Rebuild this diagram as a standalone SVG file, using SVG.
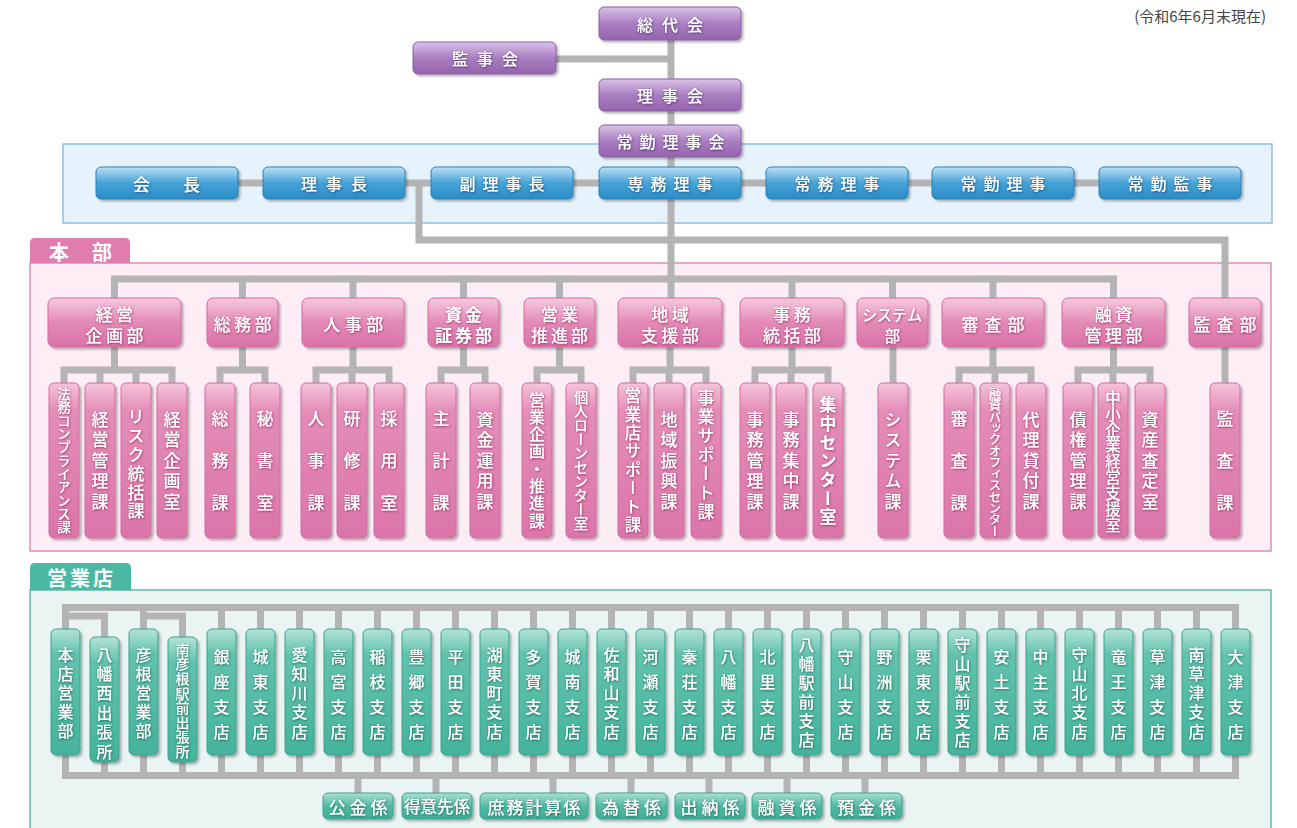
<svg xmlns="http://www.w3.org/2000/svg" width="1297" height="828" viewBox="0 0 1297 828">
<defs>
<linearGradient id="gV" x1="0" y1="0" x2="0" y2="1"><stop offset="0" stop-color="#dac3e7"/><stop offset="0.5" stop-color="#a97fc1"/><stop offset="1" stop-color="#9563ad"/></linearGradient>
<linearGradient id="gB" x1="0" y1="0" x2="0" y2="1"><stop offset="0" stop-color="#bddff4"/><stop offset="0.5" stop-color="#45a3d7"/><stop offset="1" stop-color="#2b8cc6"/></linearGradient>
<linearGradient id="gP" x1="0" y1="0" x2="0" y2="1"><stop offset="0" stop-color="#f6c9de"/><stop offset="0.5" stop-color="#e38ab6"/><stop offset="1" stop-color="#da73a8"/></linearGradient>
<linearGradient id="gPs" x1="0" y1="0" x2="0" y2="1"><stop offset="0" stop-color="#f5c4db"/><stop offset="0.18" stop-color="#e48db7"/><stop offset="1" stop-color="#db75a9"/></linearGradient>
<linearGradient id="gTs" x1="0" y1="0" x2="0" y2="1"><stop offset="0" stop-color="#b4e3d8"/><stop offset="0.2" stop-color="#62c2ad"/><stop offset="1" stop-color="#45b39c"/></linearGradient>
<linearGradient id="gT" x1="0" y1="0" x2="0" y2="1"><stop offset="0" stop-color="#ace0d3"/><stop offset="0.5" stop-color="#53baa4"/><stop offset="1" stop-color="#40ae97"/></linearGradient>
<filter id="sh" x="-20%" y="-20%" width="150%" height="150%"><feDropShadow dx="2" dy="2" stdDeviation="1.3" flood-color="#000" flood-opacity="0.28"/></filter>
<filter id="tsV" x="-30%" y="-30%" width="160%" height="160%"><feDropShadow dx="0.5" dy="0.8" stdDeviation="0.9" flood-color="#4a2467" flood-opacity="0.9"/></filter>
<filter id="tsB" x="-30%" y="-30%" width="160%" height="160%"><feDropShadow dx="0.5" dy="0.8" stdDeviation="0.9" flood-color="#123f6a" flood-opacity="0.9"/></filter>
<filter id="tsP" x="-30%" y="-30%" width="160%" height="160%"><feDropShadow dx="0.5" dy="0.8" stdDeviation="0.9" flood-color="#8e2159" flood-opacity="0.85"/></filter>
<filter id="tsT" x="-30%" y="-30%" width="160%" height="160%"><feDropShadow dx="0.5" dy="0.8" stdDeviation="0.9" flood-color="#135e50" flood-opacity="0.9"/></filter>
</defs>
<style>
.f{font-family:"Noto Sans CJK JP","Noto Sans CJK SC",sans-serif;fill:#fff;font-weight:500}
.h{text-anchor:middle;dominant-baseline:central}
.v{writing-mode:vertical-rl;text-anchor:middle}
.b{font-weight:700}
.pv{fill:url(#gV);stroke:#8a5ca4;stroke-width:1;filter:url(#sh)}
.bl{fill:url(#gB);stroke:#2a7fb9;stroke-width:1;filter:url(#sh)}
.pd{fill:url(#gP);stroke:#d36aa0;stroke-width:1;filter:url(#sh)}
.ps{fill:url(#gPs);stroke:#d36aa0;stroke-width:1;filter:url(#sh)}
.tb{fill:url(#gTs);stroke:#3aa28d;stroke-width:1;filter:url(#sh)}
.tk{fill:url(#gT);stroke:#3aa28d;stroke-width:1;filter:url(#sh)}
.xv{filter:url(#tsV)}
.xb{filter:url(#tsB)}
.xp{filter:url(#tsP)}
.xt{filter:url(#tsT)}
.c{fill:none;stroke:#b4b4b4;stroke-width:7;stroke-linecap:square}
</style>

<g id="panels">
<rect x="63" y="144" width="1209" height="79" fill="#e7f3fc" stroke="#8fbde4" stroke-width="1.5"/>
<rect x="30" y="263" width="1241" height="288" fill="#fdedf5" stroke="#e58bb5" stroke-width="1.5"/>
<path d="M30 263V243Q30 238 35 238H125Q130 238 130 243V263Z" fill="#e07dae"/>
<text class="f b" x="49" y="251" font-size="20" letter-spacing="23" dominant-baseline="central">本部</text>
<rect x="30" y="590" width="1241" height="260" fill="#eaf5f3" stroke="#5bbfac" stroke-width="1.5"/>
<path d="M30 590V568Q30 563 35 563H126Q131 563 131 568V590Z" fill="#4bb8a3"/>
<text class="f b" x="47" y="577" font-size="20" letter-spacing="3" dominant-baseline="central">営業店</text>
<text x="1266" y="15" font-size="15" fill="#444" text-anchor="end" dominant-baseline="central" font-family="Noto Sans CJK JP, sans-serif">(令和6年6月末現在)</text>
</g>

<g id="connectors" class="c">
<path d="M671 40V298M556 59H671M167 183H1170M419 183V240H1225V298"/>
<path d="M114.5 279H1113.5M114.5 279V298M242.5 279V298M353 279V298M463.5 279V298M559.5 279V298M792 279V298M892.5 279V298M993 279V298M1113.5 279V298"/>
<path d="M114.5 347V370M64 370H172M64 370V383M100 370V383M136 370V383M172 370V383"/>
<path d="M242.5 347V370M220 370H265M220 370V383M265 370V383"/>
<path d="M353 347V370M316 370H389M316 370V383M352 370V383M389 370V383"/>
<path d="M463.5 347V370M441 370H485M441 370V383M485 370V383"/>
<path d="M559.5 347V370M537 370H581M537 370V383M581 370V383"/>
<path d="M670 347V370M633 370H706M633 370V383M669 370V383M706 370V383"/>
<path d="M792 347V370M755 370H828M755 370V383M791 370V383M828 370V383"/>
<path d="M893 347V383"/>
<path d="M993 347V370M959 370H1031M959 370V383M995 370V383M1031 370V383"/>
<path d="M1113.5 347V370M1078 370H1150M1078 370V383M1113 370V383M1150 370V383"/>
<path d="M1225 347V383"/>
<path d="M65.5 607.5H1235.5M65.5 775.5H1235.5M65.5 616H104.5M143.5 616H182.5M104.5 616V775.5M182.5 616V775.5"/>
<path d="M65.5 607.5V775.5M143.5 607.5V775.5M221.5 607.5V775.5M260.5 607.5V775.5M299.5 607.5V775.5M338.5 607.5V775.5M377.5 607.5V775.5M416.5 607.5V775.5M455.5 607.5V775.5M494.5 607.5V775.5M533.5 607.5V775.5M572.5 607.5V775.5M611.5 607.5V775.5M650.5 607.5V775.5M689.5 607.5V775.5M728.5 607.5V775.5M767.5 607.5V775.5M806.5 607.5V775.5M845.5 607.5V775.5M884.5 607.5V775.5M923.5 607.5V775.5M962.5 607.5V775.5M1001.5 607.5V775.5M1040.5 607.5V775.5M1079.5 607.5V775.5M1118.5 607.5V775.5M1157.5 607.5V775.5M1196.5 607.5V775.5M1235.5 607.5V775.5"/>
<path d="M358 775.5V793M436 775.5V793M553 775.5V793M631 775.5V793M709 775.5V793M787 775.5V793M865 775.5V793"/>
</g>

<g id="n-soudaikai"><rect class="pv" x="599" y="7" width="142" height="33" rx="5"/><text class="f h xv" x="674.5" y="24" font-size="16" letter-spacing="9">総代会</text></g>
<g id="n-kanjikai"><rect class="pv" x="413" y="42" width="143" height="32" rx="5"/><text class="f h xv" x="489.5" y="58" font-size="16" letter-spacing="9">監事会</text></g>
<g id="n-rijikai"><rect class="pv" x="599" y="79" width="142" height="32" rx="5"/><text class="f h xv" x="674.5" y="95" font-size="16" letter-spacing="9">理事会</text></g>
<g id="n-joukinrijikai"><rect class="pv" x="599" y="125" width="142" height="32" rx="5"/><text class="f h xv" x="674" y="141" font-size="16" letter-spacing="7">常勤理事会</text></g>

<g id="n-kaichou"><rect class="bl" x="96" y="167" width="142" height="32" rx="5"/><text class="f h xb" x="183" y="183" font-size="17" letter-spacing="33">会長</text></g>
<g id="n-rijichou"><rect class="bl" x="263" y="167" width="142" height="32" rx="5"/><text class="f h xb" x="338.5" y="183" font-size="16" letter-spacing="9">理事長</text></g>
<g id="n-fukurijichou"><rect class="bl" x="431" y="167" width="142" height="32" rx="5"/><text class="f h xb" x="505.5" y="183" font-size="16" letter-spacing="7">副理事長</text></g>
<g id="n-senmu"><rect class="bl" x="599" y="167" width="142" height="32" rx="5"/><text class="f h xb" x="673.5" y="183" font-size="16" letter-spacing="7">専務理事</text></g>
<g id="n-joumu"><rect class="bl" x="766" y="167" width="142" height="32" rx="5"/><text class="f h xb" x="840.5" y="183" font-size="16" letter-spacing="7">常務理事</text></g>
<g id="n-joukinriji"><rect class="bl" x="932" y="167" width="142" height="32" rx="5"/><text class="f h xb" x="1006.5" y="183" font-size="16" letter-spacing="7">常勤理事</text></g>
<g id="n-joukinkanji"><rect class="bl" x="1099" y="167" width="142" height="32" rx="5"/><text class="f h xb" x="1173.5" y="183" font-size="16" letter-spacing="7">常勤監事</text></g>

<g id="d-keiei"><rect class="pd" x="48" y="298" width="133" height="49" rx="6"/><text class="f h xp" font-size="17" x="104.25 124.75 94 114.5 135" y="313.5 313.5 334.5 334.5 334.5">経営企画部</text></g>
<g id="d-soumu"><rect class="pd" x="207" y="298" width="71" height="49" rx="6"/><text class="f h xp" x="244.5" y="323.5" font-size="17" letter-spacing="3.5">総務部</text></g>
<g id="d-jinji"><rect class="pd" x="302" y="298" width="102" height="49" rx="6"/><text class="f h xp" x="355.5" y="323.5" font-size="17" letter-spacing="4.5">人事部</text></g>
<g id="d-shikin"><rect class="pd" x="428" y="298" width="71" height="49" rx="6"/><text class="f h xp b" font-size="17" x="453.5 473.5 443.5 463.5 483.5" y="313.5 313.5 334.5 334.5 334.5">資金証券部</text></g>
<g id="d-eigyou"><rect class="pd" x="524" y="298" width="71" height="49" rx="6"/><text class="f h xp" font-size="17" x="549.5 569.5 539.5 559.5 579.5" y="313.5 313.5 334.5 334.5 334.5">営業推進部</text></g>
<g id="d-chiiki"><rect class="pd" x="618" y="298" width="104" height="49" rx="6"/><text class="f h xp" font-size="17" x="659.75 680.25 649.5 670 690.5" y="313.5 313.5 334.5 334.5 334.5">地域支援部</text></g>
<g id="d-jimu"><rect class="pd" x="740" y="298" width="104" height="49" rx="6"/><text class="f h xp" font-size="17" x="781.75 802.25 771.5 792 812.5" y="313.5 313.5 334.5 334.5 334.5">事務統括部</text></g>
<g id="d-system"><rect class="pd" x="857" y="298" width="71" height="49" rx="6"/><text class="f h xp" font-size="15.5" x="869.5 884.5 899.5 914.5 892.5" y="313.5 313.5 313.5 313.5 334.5">システム部</text></g>
<g id="d-shinsa"><rect class="pd" x="942" y="298" width="102" height="49" rx="6"/><text class="f h xp" x="996" y="323.5" font-size="17" letter-spacing="6">審査部</text></g>
<g id="d-yuushi"><rect class="pd" x="1062" y="298" width="103" height="49" rx="6"/><text class="f h xp" font-size="17" x="1103.25 1123.75 1093 1113.5 1134" y="313.5 313.5 334.5 334.5 334.5">融資管理部</text></g>
<g id="d-kansa"><rect class="pd" x="1189" y="298" width="72" height="49" rx="6"/><text class="f h xp" x="1228" y="323.5" font-size="17" letter-spacing="6">監査部</text></g>

<g id="s01"><rect class="ps" x="49" y="383" width="30" height="155" rx="5"/><text class="f v xp" x="64" y="394 407.3 420.6 433.9 447.2 460.5 473.8 487.1 500.4 513.7 527" font-size="13.5">法務コンプライアンス課</text></g>
<g id="s02"><rect class="ps" x="85" y="383" width="30" height="155" rx="5"/><text class="f v xp" x="100" y="419.5 440 460.5 481 501.5" font-size="17">経営管理課</text></g>
<g id="s03"><rect class="ps" x="121" y="383" width="30" height="155" rx="5"/><text class="f v xp" x="136" y="417 435.8 454.6 473.4 492.2 511" font-size="17">リスク統括課</text></g>
<g id="s04"><rect class="ps" x="157" y="383" width="30" height="155" rx="5"/><text class="f v xp" x="172" y="419.5 440 460.5 481 501.5" font-size="17">経営企画室</text></g>
<g id="s05"><rect class="ps" x="205" y="383" width="30" height="155" rx="5"/><text class="f v xp" x="220" y="419 461 503" font-size="17">総務課</text></g>
<g id="s06"><rect class="ps" x="250" y="383" width="30" height="155" rx="5"/><text class="f v xp" x="265" y="419 461 503" font-size="17">秘書室</text></g>
<g id="s07"><rect class="ps" x="301" y="383" width="30" height="155" rx="5"/><text class="f v xp" x="316" y="419 461 503" font-size="17">人事課</text></g>
<g id="s08"><rect class="ps" x="337" y="383" width="30" height="155" rx="5"/><text class="f v xp" x="352" y="419 461 503" font-size="17">研修課</text></g>
<g id="s09"><rect class="ps" x="374" y="383" width="30" height="155" rx="5"/><text class="f v xp" x="389" y="419 461 503" font-size="17">採用室</text></g>
<g id="s10"><rect class="ps" x="426" y="383" width="30" height="155" rx="5"/><text class="f v xp" x="441" y="419 461 503" font-size="17">主計課</text></g>
<g id="s11"><rect class="ps" x="470" y="383" width="30" height="155" rx="5"/><text class="f v xp" x="485" y="419.5 440 460.5 481 501.5" font-size="17">資金運用課</text></g>
<g id="s12"><rect class="ps" x="522" y="383" width="30" height="155" rx="5"/><text class="f v xp" x="537" y="399.5 416.8 434.1 451.4 468.7 486 503.3 520.6" font-size="16">営業企画・推進課</text></g>
<g id="s13"><rect class="ps" x="566" y="383" width="30" height="155" rx="5"/><text class="f v xp" x="581" y="397 411 425 439 453 467 481 495 509 523" font-size="14.5">個人ローンセンター室</text></g>
<g id="s14"><rect class="ps" x="618" y="383" width="30" height="155" rx="5"/><text class="f v xp" x="633" y="396 414.4 432.8 451.2 469.6 488 506.4 524.8" font-size="16.5">営業店サポート課</text></g>
<g id="s15"><rect class="ps" x="654" y="383" width="30" height="155" rx="5"/><text class="f v xp" x="669" y="419.5 440 460.5 481 501.5" font-size="17">地域振興課</text></g>
<g id="s16"><rect class="ps" x="691" y="383" width="30" height="155" rx="5"/><text class="f v xp" x="706" y="398 417 436 455 474 493 512" font-size="17">事業サポート課</text></g>
<g id="s17"><rect class="ps" x="740" y="383" width="30" height="155" rx="5"/><text class="f v xp" x="755" y="419.5 440 460.5 481 501.5" font-size="17">事務管理課</text></g>
<g id="s18"><rect class="ps" x="776" y="383" width="30" height="155" rx="5"/><text class="f v xp" x="791" y="419.5 440 460.5 481 501.5" font-size="17">事務集中課</text></g>
<g id="s19"><rect class="ps" x="813" y="383" width="30" height="155" rx="5"/><text class="f v xp b" x="828" y="405 423.7 442.3 461 479.7 498.3 517" font-size="17">集中センター室</text></g>
<g id="s20"><rect class="ps" x="878" y="383" width="30" height="155" rx="5"/><text class="f v xp" x="893" y="419.5 440 460.5 481 501.5" font-size="17">システム課</text></g>
<g id="s21"><rect class="ps" x="944" y="383" width="30" height="155" rx="5"/><text class="f v xp" x="959" y="419 461 503" font-size="17">審査課</text></g>
<g id="s22"><rect class="ps" x="980" y="383" width="30" height="155" rx="5"/><text class="f v xp" x="995" y="394 405.4 416.8 428.3 439.7 451.1 462.5 473.9 485.3 496.8 508.2 519.6 531" font-size="12.5">融資バックオフィスセンター</text></g>
<g id="s23"><rect class="ps" x="1016" y="383" width="30" height="155" rx="5"/><text class="f v xp" x="1031" y="419.5 440 460.5 481 501.5" font-size="17">代理貸付課</text></g>
<g id="s24"><rect class="ps" x="1063" y="383" width="30" height="155" rx="5"/><text class="f v xp" x="1078" y="419.5 440 460.5 481 501.5" font-size="17">債権管理課</text></g>
<g id="s25"><rect class="ps" x="1098" y="383" width="30" height="155" rx="5"/><text class="f v xp" x="1113" y="398 413.9 429.8 445.6 461.5 477.4 493.3 509.1 525" font-size="15.5">中小企業経営支援室</text></g>
<g id="s26"><rect class="ps" x="1135" y="383" width="30" height="155" rx="5"/><text class="f v xp" x="1150" y="419.5 440 460.5 481 501.5" font-size="17">資産査定室</text></g>
<g id="s27"><rect class="ps" x="1210" y="383" width="30" height="155" rx="5"/><text class="f v xp" x="1225" y="419 461 503" font-size="17">監査課</text></g>

<g id="br00"><rect class="tb" x="51" y="629" width="29" height="126" rx="5"/><text class="f v xt" x="65.5" y="655 673.9 692.8 711.6 730.5" font-size="16">本店営業部</text></g>
<g id="br01"><rect class="tb" x="90" y="637" width="29" height="125" rx="5"/><text class="f v xt" x="104.5" y="654.5 673.9 693.3 712.7 732.1 751.5" font-size="16">八幡西出張所</text></g>
<g id="br02"><rect class="tb" x="129" y="629" width="29" height="126" rx="5"/><text class="f v xt" x="143.5" y="655 673.9 692.8 711.6 730.5" font-size="16">彦根営業部</text></g>
<g id="br03"><rect class="tb" x="168" y="637" width="29" height="125" rx="5"/><text class="f v xt" x="182.5" y="649.5 664.1 678.6 693.2 707.8 722.4 736.9 751.5" font-size="14">南彦根駅前出張所</text></g>
<g id="br04"><rect class="tb" x="207" y="629" width="29" height="126" rx="5"/><text class="f v xt" x="221.5" y="656.5 681.5 706.5 731.5" font-size="16">銀座支店</text></g>
<g id="br05"><rect class="tb" x="246" y="629" width="29" height="126" rx="5"/><text class="f v xt" x="260.5" y="656.5 681.5 706.5 731.5" font-size="16">城東支店</text></g>
<g id="br06"><rect class="tb" x="285" y="629" width="29" height="126" rx="5"/><text class="f v xt" x="299.5" y="654.5 673.8 693 712.3 731.5" font-size="16">愛知川支店</text></g>
<g id="br07"><rect class="tb" x="324" y="629" width="29" height="126" rx="5"/><text class="f v xt" x="338.5" y="656.5 681.5 706.5 731.5" font-size="16">高宮支店</text></g>
<g id="br08"><rect class="tb" x="363" y="629" width="29" height="126" rx="5"/><text class="f v xt" x="377.5" y="656.5 681.5 706.5 731.5" font-size="16">稲枝支店</text></g>
<g id="br09"><rect class="tb" x="402" y="629" width="29" height="126" rx="5"/><text class="f v xt" x="416.5" y="656.5 681.5 706.5 731.5" font-size="16">豊郷支店</text></g>
<g id="br10"><rect class="tb" x="441" y="629" width="29" height="126" rx="5"/><text class="f v xt" x="455.5" y="656.5 681.5 706.5 731.5" font-size="16">平田支店</text></g>
<g id="br11"><rect class="tb" x="480" y="629" width="29" height="126" rx="5"/><text class="f v xt" x="494.5" y="654.5 673.8 693 712.3 731.5" font-size="16">湖東町支店</text></g>
<g id="br12"><rect class="tb" x="519" y="629" width="29" height="126" rx="5"/><text class="f v xt" x="533.5" y="656.5 681.5 706.5 731.5" font-size="16">多賀支店</text></g>
<g id="br13"><rect class="tb" x="558" y="629" width="29" height="126" rx="5"/><text class="f v xt" x="572.5" y="656.5 681.5 706.5 731.5" font-size="16">城南支店</text></g>
<g id="br14"><rect class="tb" x="597" y="629" width="29" height="126" rx="5"/><text class="f v xt" x="611.5" y="654.5 673.8 693 712.3 731.5" font-size="16">佐和山支店</text></g>
<g id="br15"><rect class="tb" x="636" y="629" width="29" height="126" rx="5"/><text class="f v xt" x="650.5" y="656.5 681.5 706.5 731.5" font-size="16">河瀬支店</text></g>
<g id="br16"><rect class="tb" x="675" y="629" width="29" height="126" rx="5"/><text class="f v xt" x="689.5" y="656.5 681.5 706.5 731.5" font-size="16">秦荘支店</text></g>
<g id="br17"><rect class="tb" x="714" y="629" width="29" height="126" rx="5"/><text class="f v xt" x="728.5" y="656.5 681.5 706.5 731.5" font-size="16">八幡支店</text></g>
<g id="br18"><rect class="tb" x="753" y="629" width="29" height="126" rx="5"/><text class="f v xt" x="767.5" y="656.5 681.5 706.5 731.5" font-size="16">北里支店</text></g>
<g id="br19"><rect class="tb" x="792" y="629" width="29" height="126" rx="5"/><text class="f v xt" x="806.5" y="645 664 683 702 721 740" font-size="16">八幡駅前支店</text></g>
<g id="br20"><rect class="tb" x="831" y="629" width="29" height="126" rx="5"/><text class="f v xt" x="845.5" y="656.5 681.5 706.5 731.5" font-size="16">守山支店</text></g>
<g id="br21"><rect class="tb" x="870" y="629" width="29" height="126" rx="5"/><text class="f v xt" x="884.5" y="656.5 681.5 706.5 731.5" font-size="16">野洲支店</text></g>
<g id="br22"><rect class="tb" x="909" y="629" width="29" height="126" rx="5"/><text class="f v xt" x="923.5" y="656.5 681.5 706.5 731.5" font-size="16">栗東支店</text></g>
<g id="br23"><rect class="tb" x="948" y="629" width="29" height="126" rx="5"/><text class="f v xt" x="962.5" y="645 664 683 702 721 740" font-size="16">守山駅前支店</text></g>
<g id="br24"><rect class="tb" x="987" y="629" width="29" height="126" rx="5"/><text class="f v xt" x="1001.5" y="656.5 681.5 706.5 731.5" font-size="16">安土支店</text></g>
<g id="br25"><rect class="tb" x="1026" y="629" width="29" height="126" rx="5"/><text class="f v xt" x="1040.5" y="656.5 681.5 706.5 731.5" font-size="16">中主支店</text></g>
<g id="br26"><rect class="tb" x="1065" y="629" width="29" height="126" rx="5"/><text class="f v xt" x="1079.5" y="654.5 673.8 693 712.3 731.5" font-size="16">守山北支店</text></g>
<g id="br27"><rect class="tb" x="1104" y="629" width="29" height="126" rx="5"/><text class="f v xt" x="1118.5" y="656.5 681.5 706.5 731.5" font-size="16">竜王支店</text></g>
<g id="br28"><rect class="tb" x="1143" y="629" width="29" height="126" rx="5"/><text class="f v xt" x="1157.5" y="656.5 681.5 706.5 731.5" font-size="16">草津支店</text></g>
<g id="br29"><rect class="tb" x="1182" y="629" width="29" height="126" rx="5"/><text class="f v xt" x="1196.5" y="654.5 673.8 693 712.3 731.5" font-size="16">南草津支店</text></g>
<g id="br30"><rect class="tb" x="1221" y="629" width="29" height="126" rx="5"/><text class="f v xt" x="1235.5" y="656.5 681.5 706.5 731.5" font-size="16">大津支店</text></g>

<g id="k1"><rect class="tk" x="323" y="793" width="70" height="26" rx="5"/><text class="f h xt" x="360" y="806" font-size="17" letter-spacing="4">公金係</text></g>
<g id="k2"><rect class="tk" x="402" y="793" width="70" height="26" rx="5"/><text class="f h xt" x="437" y="806" font-size="16.5">得意先係</text></g>
<g id="k3"><rect class="tk" x="480" y="793" width="108" height="26" rx="5"/><text class="f h xt" x="535" y="806" font-size="17" letter-spacing="2">庶務計算係</text></g>
<g id="k4"><rect class="tk" x="596" y="793" width="71" height="26" rx="5"/><text class="f h xt" x="633.5" y="806" font-size="17" letter-spacing="4">為替係</text></g>
<g id="k5"><rect class="tk" x="675" y="793" width="70" height="26" rx="5"/><text class="f h xt" x="712" y="806" font-size="17" letter-spacing="4">出納係</text></g>
<g id="k6"><rect class="tk" x="752" y="793" width="70" height="26" rx="5"/><text class="f h xt" x="789" y="806" font-size="17" letter-spacing="4">融資係</text></g>
<g id="k7"><rect class="tk" x="831" y="793" width="71" height="26" rx="5"/><text class="f h xt" x="868.5" y="806" font-size="17" letter-spacing="4">預金係</text></g>
</svg>
